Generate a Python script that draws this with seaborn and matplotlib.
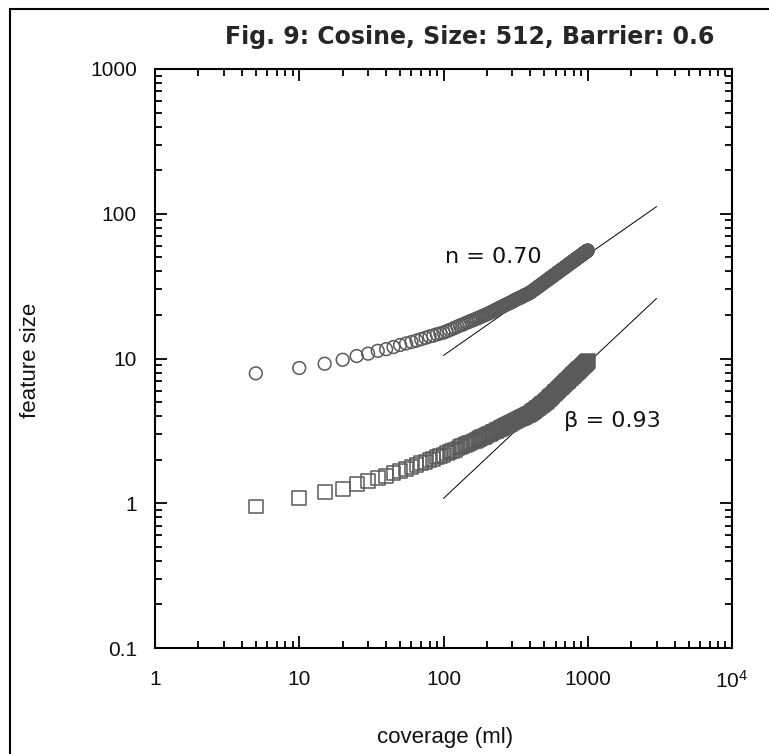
import numpy as np
import matplotlib
matplotlib.use("Agg")
import matplotlib.pyplot as plt
import seaborn as sns
from matplotlib.lines import Line2D
from matplotlib.ticker import LogLocator, NullFormatter

# coverage sampled every 5 ml
coverage = np.arange(5, 1005, 5)

# "n" series (circles)
upper_size = [
    7.9, 8.6, 9.2, 9.8, 10.4, 10.8, 11.3, 11.6, 12.0, 12.4,
    12.7, 13.0, 13.3, 13.6, 13.9, 14.2, 14.4, 14.7, 14.9, 15.1,
    15.4, 15.7, 16.0, 16.3, 16.6, 16.9, 17.1, 17.4, 17.7, 17.9,
    18.2, 18.4, 18.6, 18.9, 19.1, 19.3, 19.6, 19.8, 20.0, 20.2,
    20.5, 20.7, 20.9, 21.2, 21.4, 21.7, 21.9, 22.1, 22.4, 22.6,
    22.8, 23.0, 23.3, 23.5, 23.7, 23.9, 24.1, 24.3, 24.5, 24.7,
    25.0, 25.2, 25.4, 25.6, 25.8, 26.0, 26.1, 26.3, 26.5, 26.7,
    26.9, 27.1, 27.3, 27.5, 27.7, 27.8, 28.0, 28.2, 28.4, 28.6,
    28.8, 29.1, 29.4, 29.6, 29.9, 30.1, 30.4, 30.6, 30.9, 31.1,
    31.4, 31.6, 31.9, 32.1, 32.4, 32.6, 32.9, 33.1, 33.4, 33.6,
    33.9, 34.1, 34.4, 34.6, 34.8, 35.1, 35.3, 35.6, 35.8, 36.1,
    36.3, 36.5, 36.8, 37.0, 37.2, 37.5, 37.7, 37.9, 38.2, 38.4,
    38.6, 38.9, 39.1, 39.3, 39.6, 39.8, 40.0, 40.3, 40.5, 40.7,
    41.0, 41.2, 41.4, 41.6, 41.9, 42.1, 42.3, 42.5, 42.8, 43.0,
    43.2, 43.4, 43.7, 43.9, 44.1, 44.3, 44.5, 44.8, 45.0, 45.2,
    45.4, 45.7, 45.9, 46.1, 46.3, 46.5, 46.7, 47.0, 47.2, 47.4,
    47.6, 47.8, 48.0, 48.3, 48.5, 48.7, 48.9, 49.1, 49.3, 49.5,
    49.8, 50.0, 50.2, 50.4, 50.6, 50.8, 51.0, 51.2, 51.4, 51.6,
    51.9, 52.1, 52.3, 52.5, 52.7, 52.9, 53.1, 53.3, 53.5, 53.7,
    53.9, 54.1, 54.3, 54.6, 54.8, 55.0, 55.2, 55.4, 55.6, 55.8,
]

# "beta" series (squares)
lower_size = [
    0.95, 1.09, 1.19, 1.26, 1.35, 1.42, 1.49, 1.55, 1.61, 1.67,
    1.73, 1.79, 1.84, 1.89, 1.94, 1.99, 2.03, 2.08, 2.12, 2.16,
    2.21, 2.25, 2.30, 2.34, 2.39, 2.43, 2.47, 2.51, 2.55, 2.59,
    2.63, 2.67, 2.71, 2.74, 2.78, 2.81, 2.85, 2.88, 2.92, 2.95,
    2.99, 3.02, 3.06, 3.09, 3.13, 3.16, 3.20, 3.23, 3.27, 3.30,
    3.33, 3.36, 3.40, 3.43, 3.46, 3.49, 3.52, 3.55, 3.58, 3.61,
    3.64, 3.67, 3.70, 3.73, 3.76, 3.79, 3.82, 3.85, 3.87, 3.90,
    3.93, 3.96, 3.99, 4.01, 4.04, 4.07, 4.09, 4.12, 4.15, 4.17,
    4.21, 4.25, 4.29, 4.33, 4.36, 4.40, 4.44, 4.48, 4.52, 4.56,
    4.59, 4.63, 4.67, 4.71, 4.74, 4.78, 4.82, 4.86, 4.89, 4.93,
    4.98, 5.03, 5.07, 5.12, 5.17, 5.21, 5.26, 5.31, 5.36, 5.40,
    5.45, 5.50, 5.54, 5.59, 5.64, 5.69, 5.73, 5.78, 5.83, 5.87,
    5.92, 5.97, 6.01, 6.06, 6.11, 6.16, 6.20, 6.25, 6.30, 6.34,
    6.39, 6.44, 6.48, 6.53, 6.58, 6.62, 6.67, 6.72, 6.76, 6.81,
    6.86, 6.90, 6.95, 7.00, 7.04, 7.09, 7.14, 7.18, 7.23, 7.28,
    7.32, 7.37, 7.42, 7.46, 7.51, 7.56, 7.60, 7.65, 7.70, 7.74,
    7.79, 7.83, 7.88, 7.93, 7.97, 8.02, 8.07, 8.11, 8.16, 8.21,
    8.25, 8.30, 8.34, 8.39, 8.44, 8.48, 8.53, 8.58, 8.62, 8.67,
    8.71, 8.76, 8.81, 8.85, 8.90, 8.95, 8.99, 9.04, 9.08, 9.13,
    9.18, 9.22, 9.27, 9.31, 9.36, 9.41, 9.45, 9.50, 9.54, 9.59,
]

# power-law fit lines
fit_x = [100, 3000]
upper_fit = [10.5, 112]
lower_fit = [1.08, 26]

x_ticks = [1, 10, 100, 1000, 10000]
x_labels = ["1", "10", "100", "1000", r"$10^4$"]
y_ticks = [0.1, 1, 10, 100, 1000]
y_labels = ["0.1", "1", "10", "100", "1000"]

sns.set_style("ticks")
plt.rcParams["font.family"] = ["Liberation Sans", "DejaVu Sans"]
plt.rcParams["mathtext.default"] = "regular"

fig = plt.figure(figsize=(7.69, 7.54), dpi=100)
ax = fig.add_axes([155 / 769, 1 - 648 / 754, 577 / 769, 579 / 754])
ax.set_xscale("log")
ax.set_yscale("log")

gray = "#5a5a5a"
# fit lines go underneath the data bands
sns.lineplot(x=fit_x, y=upper_fit, ax=ax, color="black", lw=0.7, zorder=2)
sns.lineplot(x=fit_x, y=lower_fit, ax=ax, color="black", lw=0.7, zorder=2)
sns.scatterplot(x=coverage, y=upper_size, ax=ax, marker="o", s=84,
                facecolor="none", edgecolor=gray, linewidth=1.1, zorder=3)
sns.scatterplot(x=coverage, y=lower_size, ax=ax, marker="s", s=100,
                facecolor="none", edgecolor=gray, linewidth=1.1, zorder=3)

ax.set_xlim(1, 1e4)
ax.set_ylim(0.1, 1000)
ax.set_xticks(x_ticks, x_labels)
ax.set_yticks(y_ticks, y_labels)
ax.xaxis.set_minor_locator(LogLocator(base=10, subs=range(2, 10), numticks=20))
ax.yaxis.set_minor_locator(LogLocator(base=10, subs=range(2, 10), numticks=20))
ax.xaxis.set_minor_formatter(NullFormatter())
ax.yaxis.set_minor_formatter(NullFormatter())
ax.tick_params(which="both", direction="in", top=True, right=True,
               width=1.3, color="black", labelsize=15, labelcolor="#111")
ax.tick_params(which="major", length=8.5)
ax.tick_params(which="minor", length=5)
ax.tick_params(axis="x", which="major", pad=16)
ax.tick_params(axis="y", which="major", pad=13)
for sp in ax.spines.values():
    sp.set_linewidth(1.5)
    sp.set_color("black")
ax.set_xlabel("")
ax.set_ylabel("")

ax.text(220, 50, "n = 0.70", fontsize=16, family="DejaVu Sans",
        ha="center", va="center", color="#111")
ax.text(1470, 3.7, "\u03b2 = 0.93", fontsize=16, family="DejaVu Sans",
        ha="center", va="center", color="#111")

fig.text(470 / 769, 1 - 37 / 754, "Fig. 9: Cosine, Size: 512, Barrier: 0.6",
         fontsize=17, family="DejaVu Sans", weight="bold",
         ha="center", va="center")
fig.text(445 / 769, 1 - 737 / 754, "coverage (ml)", fontsize=16,
         ha="center", va="center", color="#111")
fig.text(30 / 769, 1 - 360 / 754, "feature size", fontsize=16, rotation=90,
         ha="center", va="center", color="#111")

# frame around the figure (left and top edges visible)
fig.add_artist(Line2D([9.5 / 769, 9.5 / 769], [0, 1 - 8.5 / 754],
                      transform=fig.transFigure, color="black", lw=1.5))
fig.add_artist(Line2D([9.5 / 769, 1], [1 - 8.5 / 754, 1 - 8.5 / 754],
                      transform=fig.transFigure, color="black", lw=1.5))

fig.savefig("out.png", dpi=100)
